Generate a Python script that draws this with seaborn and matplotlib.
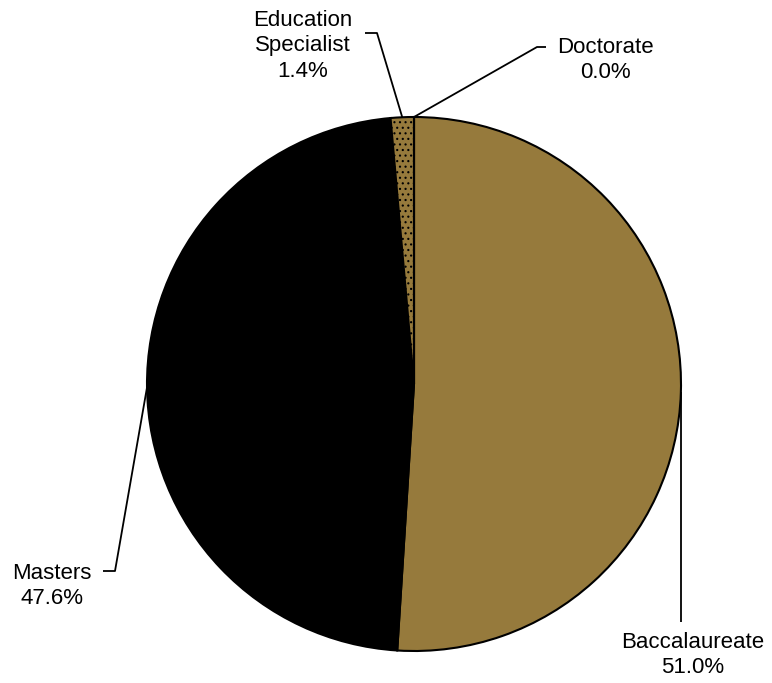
import numpy as np
import matplotlib
matplotlib.use("Agg")
import matplotlib.pyplot as plt
import seaborn as sns

# degree shares
categories = ['Baccalaureate', 'Masters', 'Education\nSpecialist', 'Doctorate']
shares = [51.0, 47.6, 1.4, 0.0]
pct_labels = ['51.0%', '47.6%', '1.4%', '0.0%']

sns.set_style("white")
plt.rcParams['font.family'] = ['Liberation Sans', 'DejaVu Sans']
plt.rcParams['hatch.linewidth'] = 0.8
plt.rcParams['hatch.color'] = '#2a2a2a'

brown = '#967A3C'
colors = [brown, '#000000', brown, brown]
hatches = [None, None, '...', None]

W, H = 772, 683
fig = plt.figure(figsize=(W / 100, H / 100), dpi=100)
ax = fig.add_axes([0, 0, 1, 1])

cx, cy, r = 414, H - 384, 267
wedges, _ = ax.pie(shares, colors=colors, startangle=90, counterclock=False,
                   center=(cx, cy), radius=r, frame=True,
                   wedgeprops=dict(edgecolor='black', linewidth=1.5))
for w, h in zip(wedges, hatches):
    if h:
        w.set_hatch(h)
ax.set_xlim(0, W)
ax.set_ylim(0, H)
ax.set_aspect('equal')
ax.axis('off')

# label layout: elbow points and text centres (pixel coords, y down)
elbows = [[(681, 622)], [(115, 571), (103, 571)], [(377, 33), (365, 33)], [(537, 47), (546, 47)]]
text_pos = [(693, 655), (52, 586), (303, 46), (605, 60)]

cum = np.cumsum([0] + shares)
for i, name in enumerate(categories):
    mid = (cum[i] + cum[i + 1]) / 2 / 100 * 360
    ang = np.deg2rad(90 - mid)
    ax_x = cx + r * np.cos(ang)
    ax_y = cy + r * np.sin(ang)
    if i == 0:
        pts = [(ax_x, ax_y)] + [(ax_x, H - y) for x, y in elbows[i]]
    else:
        pts = [(ax_x, ax_y)] + [(x, H - y) for x, y in elbows[i]]
    xs, ys = zip(*pts)
    ax.plot(xs, ys, color='black', linewidth=1.3, solid_capstyle='butt')
    tx, ty = text_pos[i]
    ax.text(tx, H - ty, f"{name}\n{pct_labels[i]}", ha='center', va='center',
            fontsize=16, linespacing=1.3, color='black')

fig.savefig('out.png', dpi=100)
